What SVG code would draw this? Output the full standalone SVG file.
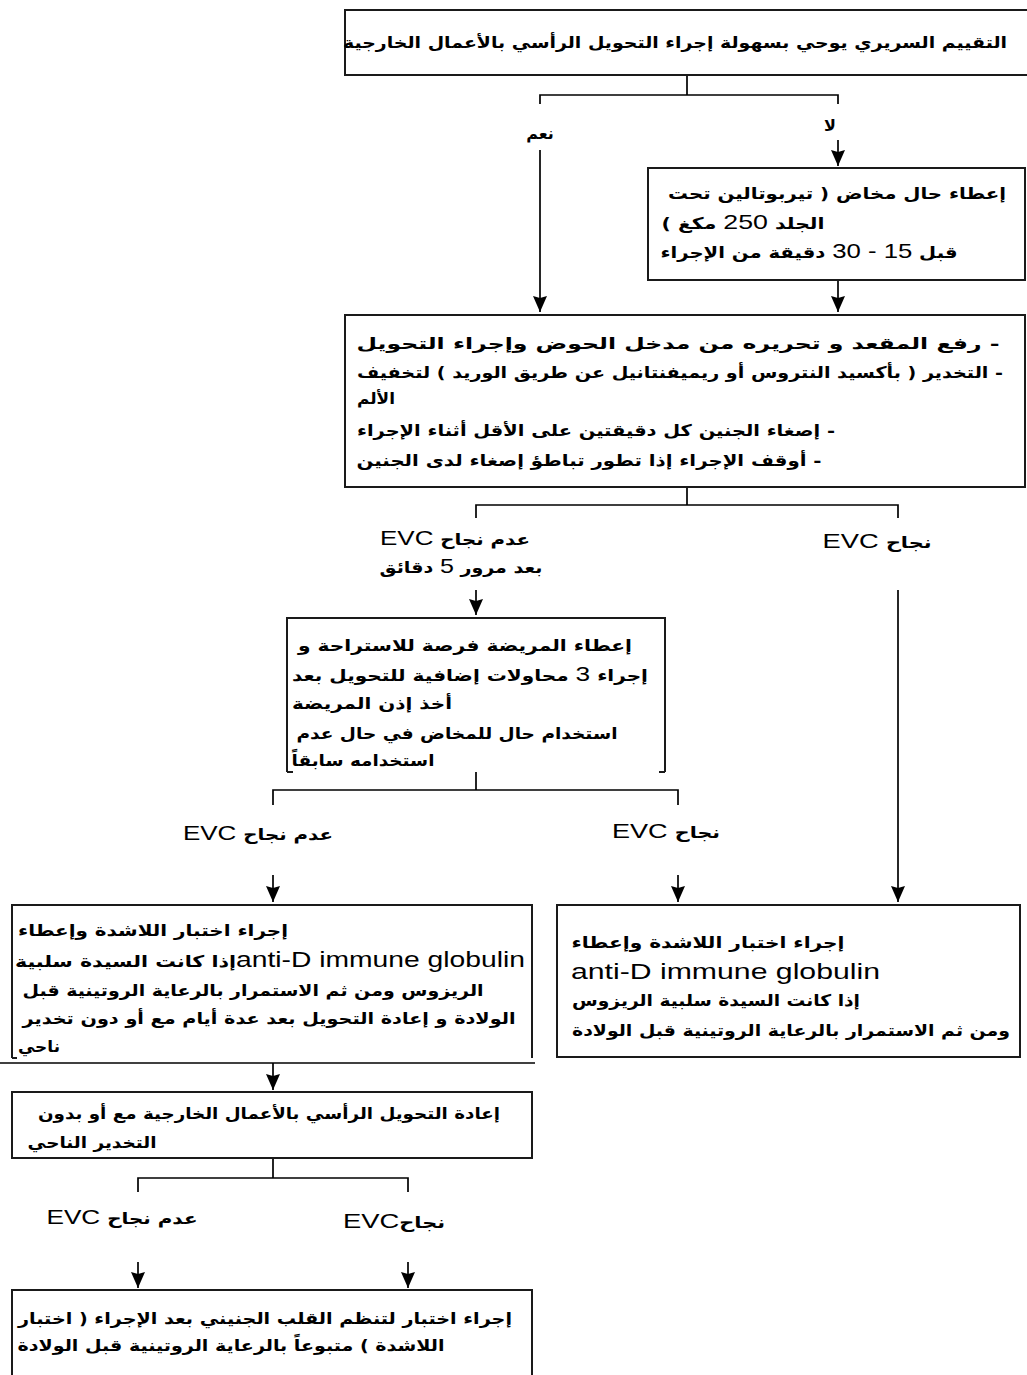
<svg xmlns="http://www.w3.org/2000/svg" width="1027" height="1375" viewBox="0 0 1027 1375">
  <defs>
    <marker id="arrow" viewBox="0 0 16 14" refX="16" refY="7" markerWidth="16" markerHeight="14" markerUnits="userSpaceOnUse" orient="auto">
      <path d="M0,0 L16,7 L0,14 L2,7 z" fill="#000"/>
    </marker>
    <style>
      .box { fill: #fff; stroke: #1a1a1a; stroke-width: 2; }
      .edge { fill: none; stroke: #1a1a1a; stroke-width: 2; }
      .link { fill: none; stroke: #000; stroke-width: 1.7; }
      .arrow { marker-end: url(#arrow); }
      text { fill: #000; }
      .ar { font-family: "DejaVu Sans", "Noto Sans", sans-serif; font-weight: bold; font-size: 16px; direction: rtl; unicode-bidi: embed; text-anchor: middle; }
      .lat { font-family: "Liberation Sans", Arial, sans-serif; font-weight: normal; font-size: 21px; }
      .big { font-family: "Liberation Sans", Arial, sans-serif; font-weight: normal; font-size: 22px; }
    </style>
  </defs>

  <!-- connectors -->
  <g id="connectors">
    <path class="link" d="M687,75 V95 M540,104 V95 H838 V104"/>
    <path class="link arrow" d="M540,150 V312"/>
    <path class="link arrow" d="M838,140 V166"/>
    <path class="link arrow" d="M838,281 V312"/>
    <path class="link" d="M687,487 V505 M476,518 V505 H898 V518"/>
    <path class="link arrow" d="M476,590 V615"/>
    <path class="link arrow" d="M898,590 V902"/>
    <path class="link" d="M476,772 V790 M273,805 V790 H678 V805"/>
    <path class="link arrow" d="M273,875 V902"/>
    <path class="link arrow" d="M678,875 V902"/>
    <path class="link" d="M0,1063 H535"/>
    <path class="link arrow" d="M273,1063 V1090"/>
    <path class="link" d="M273,1158 V1178 M138,1192 V1178 H408 V1192"/>
    <path class="link arrow" d="M138,1262 V1288"/>
    <path class="link arrow" d="M408,1262 V1288"/>
  </g>

  <!-- branch labels -->
  <g id="labels">
    <text class="ar" x="540" y="139">نعم</text>
    <text class="ar" x="830" y="131">لا</text>
    <text class="ar" x="455" y="545" textLength="150" lengthAdjust="spacingAndGlyphs">عدم نجاح <tspan class="lat">EVC</tspan></text>
    <text class="ar" x="461" y="573" textLength="163" lengthAdjust="spacingAndGlyphs">بعد مرور <tspan class="lat">5</tspan> دقائق</text>
    <text class="ar" x="877" y="548" textLength="109" lengthAdjust="spacingAndGlyphs">نجاح <tspan class="lat">EVC</tspan></text>
    <text class="ar" x="258" y="840" textLength="150" lengthAdjust="spacingAndGlyphs">عدم نجاح <tspan class="lat">EVC</tspan></text>
    <text class="ar" x="666" y="838" textLength="108" lengthAdjust="spacingAndGlyphs">نجاح <tspan class="lat">EVC</tspan></text>
    <text class="ar" x="122" y="1224" textLength="151" lengthAdjust="spacingAndGlyphs">عدم نجاح <tspan class="lat">EVC</tspan></text>
    <text class="ar" x="394" y="1228" textLength="102" lengthAdjust="spacingAndGlyphs">نجاح<tspan class="lat">EVC</tspan></text>
  </g>

  <!-- clinical assessment -->
  <g id="node-assessment">
    <rect class="box" x="345" y="10" width="690" height="65"/>
    <text class="ar" x="675" y="48" textLength="664" lengthAdjust="spacingAndGlyphs">التقييم السريري يوحي بسهولة إجراء التحويل الرأسي بالأعمال الخارجية</text>
  </g>

  <!-- tocolysis -->
  <g id="node-tocolysis">
    <rect class="box" x="648" y="168" width="377" height="112"/>
    <text class="ar" x="837" y="199" textLength="338" lengthAdjust="spacingAndGlyphs">إعطاء حال مخاض ( تيربوتالين تحت</text>
    <text class="ar" x="743" y="229" textLength="163" lengthAdjust="spacingAndGlyphs">الجلد <tspan class="lat">250</tspan> مكغ )</text>
    <text class="ar" x="809" y="258" textLength="297" lengthAdjust="spacingAndGlyphs">قبل <tspan class="lat">15 - 30</tspan> دقيقة من الإجراء</text>
  </g>

  <!-- procedure -->
  <g id="node-procedure">
    <rect class="box" x="345" y="315" width="680" height="172"/>
    <text class="ar" x="678" y="349" textLength="643" lengthAdjust="spacingAndGlyphs">- رفع المقعد و تحريره من مدخل الحوض وإجراء التحويل</text>
    <text class="ar" x="680" y="378" textLength="646" lengthAdjust="spacingAndGlyphs">- التخدير ( بأكسيد النتروس أو ريميفنتانيل عن طريق الوريد ) لتخفيف</text>
    <text class="ar" x="376" y="404" textLength="38" lengthAdjust="spacingAndGlyphs">الألم</text>
    <text class="ar" x="596" y="436" textLength="478" lengthAdjust="spacingAndGlyphs">- إصغاء الجنين كل دقيقتين على الأقل أثناء الإجراء</text>
    <text class="ar" x="589" y="466" textLength="465" lengthAdjust="spacingAndGlyphs">- أوقف الإجراء إذا تطور تباطؤ إصغاء لدى الجنين</text>
  </g>

  <!-- further attempts -->
  <g id="node-retry">
    <path class="edge" d="M287,772 V618 H665 V772 M287,772 H293 M665,772 H659"/>
    <text class="ar" x="465" y="651" textLength="334" lengthAdjust="spacingAndGlyphs">إعطاء المريضة فرصة للاستراحة و</text>
    <text class="ar" x="470" y="681" textLength="356" lengthAdjust="spacingAndGlyphs">إجراء <tspan class="lat">3</tspan> محاولات إضافية للتحويل بعد</text>
    <text class="ar" x="372" y="709" textLength="160" lengthAdjust="spacingAndGlyphs">أخذ إذن المريضة</text>
    <text class="ar" x="457" y="739" textLength="321" lengthAdjust="spacingAndGlyphs">استخدام حال للمخاض في حال عدم</text>
    <text class="ar" x="363" y="766" textLength="143" lengthAdjust="spacingAndGlyphs">استخدامه سابقاً</text>
  </g>

  <!-- failed: CTG, anti-D, re-attempt -->
  <g id="node-failed-care">
    <path class="edge" d="M12,1058 V905 H532 V1058 M12,1058 H17"/>
    <text class="ar" x="153" y="936" textLength="270" lengthAdjust="spacingAndGlyphs">إجراء اختبار اللاشدة وإعطاء</text>
    <text class="ar" x="270" y="967" textLength="510" lengthAdjust="spacingAndGlyphs"><tspan class="big">anti-D immune globulin</tspan>إذا كانت السيدة سلبية</text>
    <text class="ar" x="253" y="996" textLength="461" lengthAdjust="spacingAndGlyphs">الريزوس ومن ثم الاستمرار بالرعاية الروتينية قبل</text>
    <text class="ar" x="269" y="1024" textLength="493" lengthAdjust="spacingAndGlyphs">الولادة و إعادة التحويل بعد عدة أيام مع أو دون تخدير</text>
    <text class="ar" x="39" y="1052" textLength="42" lengthAdjust="spacingAndGlyphs">ناحي</text>
  </g>

  <!-- success: CTG, anti-D, routine care -->
  <g id="node-success-care">
    <rect class="box" x="557" y="905" width="463" height="152"/>
    <text class="ar" x="708" y="948" textLength="273" lengthAdjust="spacingAndGlyphs">إجراء اختبار اللاشدة وإعطاء</text>
    <text class="big" x="571" y="979" textLength="309" lengthAdjust="spacingAndGlyphs">anti-D immune globulin</text>
    <text class="ar" x="716" y="1006" textLength="288" lengthAdjust="spacingAndGlyphs">إذا كانت السيدة سلبية الريزوس</text>
    <text class="ar" x="791" y="1036" textLength="438" lengthAdjust="spacingAndGlyphs">ومن ثم الاستمرار بالرعاية الروتينية قبل الولادة</text>
  </g>

  <!-- repeat ECV -->
  <g id="node-repeat">
    <rect class="box" x="12" y="1092" width="520" height="66"/>
    <text class="ar" x="269" y="1119" textLength="462" lengthAdjust="spacingAndGlyphs">إعادة التحويل الرأسي بالأعمال الخارجية مع أو بدون</text>
    <text class="ar" x="92" y="1148" textLength="129" lengthAdjust="spacingAndGlyphs">التخدير الناحي</text>
  </g>

  <!-- post-procedure monitoring -->
  <g id="node-monitoring">
    <rect class="box" x="12" y="1290" width="520" height="95"/>
    <text class="ar" x="265" y="1324" textLength="494" lengthAdjust="spacingAndGlyphs">إجراء اختبار لتنظم القلب الجنيني بعد الإجراء ( اختبار</text>
    <text class="ar" x="231" y="1351" textLength="427" lengthAdjust="spacingAndGlyphs">اللاشدة ) متبوعاً بالرعاية الروتينية قبل الولادة</text>
  </g>
</svg>
